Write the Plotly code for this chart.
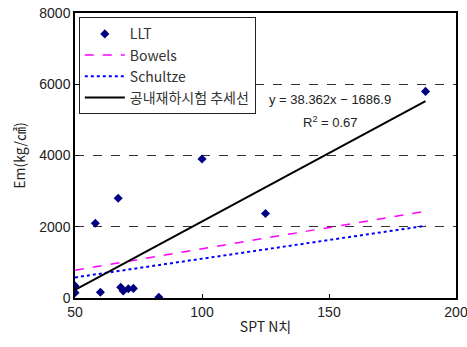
import plotly.graph_objects as go

# Measured data (LLT)
llt_n = [50, 50, 58, 60, 67, 68, 69, 71, 73, 83, 100, 125, 188]
llt_em = [340, 150, 2100, 160, 2800, 300, 200, 260, 270, 20, 3900, 2370, 5800]

# Empirical curves evaluated at sorted N values
curve_n = [50, 58, 60, 67, 68, 69, 72, 83, 100, 125, 188]
bowels_em = [780, 876, 900, 984, 996, 1008, 1044, 1176, 1380, 1680, 2436]
schultze_em = [578, 662, 683, 756, 767, 777, 809, 924, 1103, 1365, 2027]

# Trend line endpoints
trend_n = [50, 188]
trend_em = [231, 5525]

x_ticks = [50, 100, 150, 200]
y_ticks = [0, 2000, 4000, 6000, 8000]

font_main = "Liberation Sans, Arial, Noto Sans CJK KR, sans-serif"
font_kr = "Noto Sans CJK KR, sans-serif"

fig = go.Figure()
fig.add_trace(go.Scatter(x=llt_n, y=llt_em, mode="markers", name="LLT",
                         marker=dict(symbol="diamond", color="#000080", size=7)))
fig.add_trace(go.Scatter(x=curve_n, y=bowels_em, mode="lines", name="Bowels",
                         line=dict(color="#FF00FF", dash="dash", width=1.5)))
fig.add_trace(go.Scatter(x=curve_n, y=schultze_em, mode="lines", name="Schultze",
                         line=dict(color="#0000FF", dash="dot", width=2)))
fig.add_trace(go.Scatter(x=trend_n, y=trend_em, mode="lines", name="공내재하시험 추세선",
                         line=dict(color="black", width=2)))

fig.add_annotation(x=150.5, y=5580, text="y = 38.362x − 1686.9", showarrow=False,
                   font=dict(size=13, color="#222", family=font_main))
fig.add_annotation(x=150.5, y=4930, text="R<sup>2</sup> = 0.67", showarrow=False,
                   font=dict(size=13, color="#222", family=font_main))

fig.update_layout(
    width=467, height=347,
    margin=dict(l=75, r=11, t=13, b=49),
    paper_bgcolor="white", plot_bgcolor="white",
    font=dict(family=font_main, size=14, color="#222"),
    showlegend=True,
    legend=dict(x=0.01, y=0.985, xanchor="left", yanchor="top",
                bgcolor="white", bordercolor="#222", borderwidth=1,
                font=dict(size=14, family=font_kr, color="#333"),
                itemwidth=40),
    xaxis=dict(range=[50, 200], tickvals=x_ticks, showgrid=False, zeroline=False,
               showline=True, linecolor="black", linewidth=1.5, mirror=True,
               ticks="inside", ticklen=4, tickcolor="black", automargin=False,
               ticklabeloverflow="allow",
               title=dict(text="SPT N치", font=dict(size=14, family=font_kr), standoff=4)),
    yaxis=dict(range=[0, 8000], tickvals=y_ticks, showgrid=True, gridcolor="#333",
               griddash="dash", gridwidth=1, zeroline=False,
               showline=True, linecolor="black", linewidth=1.5, mirror=True,
               ticks="inside", ticklen=4, tickcolor="black", automargin=False,
               ticklabeloverflow="allow",
               title=dict(text="Em(kg/㎠)", font=dict(size=14, family=font_kr), standoff=10)),
)

fig.write_html("out.html")
